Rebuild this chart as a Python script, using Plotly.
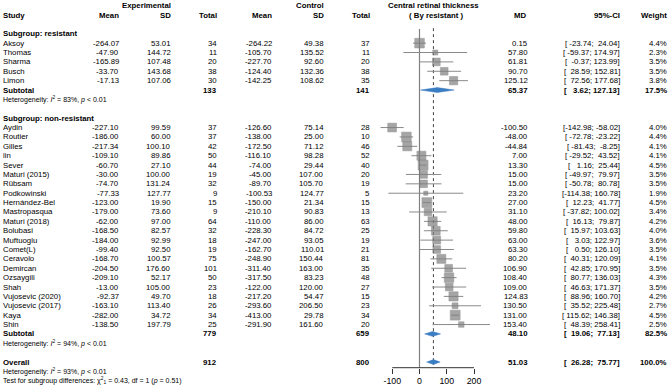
import plotly.graph_objects as go

# ---------------- data ----------------
study = ["Aksoy", "Thomas", "Sharma", "Busch", "Limon",
         "Aydin", "Routier", "Gilles", "lin", "Sever", "Maturi (2015)", "Rübsam",
         "Podkowinski", "Hernández-Bel", "Mastropasqua", "Maturi (2018)", "Bolubasi",
         "Muftuoglu", "Comet(L)", "Ceravolo", "Demircan", "Ozsaygili", "Shah",
         "Vujosevic (2020)", "Vujosevic (2017)", "Kaya", "Shin"]
group = ["resistant"] * 5 + ["non-resistant"] * 22
exp_mean = [-264.07, -47.90, -165.89, -33.70, -17.13,
            -227.10, -186.00, -217.34, -109.10, -60.70, -30.00, -74.70,
            -77.33, -123.00, -179.00, -62.00, -168.50,
            -184.00, -99.40, -168.70, -204.50, -209.10, -13.00,
            -92.37, -163.10, -282.00, -138.50]
exp_sd = [53.01, 144.72, 107.48, 143.68, 107.06,
          99.59, 60.00, 100.10, 89.86, 27.10, 100.00, 131.24,
          127.77, 19.90, 73.60, 97.00, 82.57,
          92.99, 92.50, 100.57, 176.60, 52.17, 105.00,
          49.70, 113.40, 34.72, 197.79]
exp_n = [34, 11, 20, 38, 30,
         37, 37, 42, 50, 44, 19, 32,
         9, 15, 9, 64, 32,
         18, 19, 75, 101, 50, 23,
         18, 26, 34, 25]
ctl_mean = [-264.22, -105.70, -227.70, -124.40, -142.25,
            -126.60, -138.00, -172.50, -116.10, -74.00, -45.00, -89.70,
            -100.53, -150.00, -210.10, -110.00, -228.30,
            -247.00, -162.70, -248.90, -311.40, -317.50, -122.00,
            -217.20, -293.60, -413.00, -291.90]
ctl_sd = [49.38, 135.52, 92.60, 132.36, 108.62,
          75.14, 25.00, 71.12, 98.28, 29.44, 107.00, 105.70,
          124.77, 21.34, 90.83, 86.00, 84.72,
          93.05, 110.01, 150.44, 163.00, 83.23, 120.00,
          54.47, 206.50, 29.78, 161.60]
ctl_n = [37, 11, 20, 38, 35,
         28, 10, 46, 52, 40, 20, 19,
         5, 15, 13, 63, 25,
         19, 21, 81, 35, 48, 27,
         15, 23, 34, 20]
md = [0.15, 57.80, 61.81, 90.70, 125.12,
      -100.50, -48.00, -44.84, 7.00, 13.30, 15.00, 15.00,
      23.20, 27.00, 31.10, 48.00, 59.80,
      63.00, 63.30, 80.20, 106.90, 108.40, 109.00,
      124.83, 130.50, 131.00, 153.40]
ci_lo = [-23.74, -59.37, -0.37, 28.59, 72.56,
         -142.98, -72.78, -81.43, -29.52, 1.16, -49.97, -50.78,
         -114.38, 12.23, -37.82, 16.13, 15.97,
         3.03, 0.50, 40.31, 42.85, 80.77, 46.63,
         88.96, 35.52, 115.62, 48.39]
ci_hi = [24.04, 174.97, 123.99, 152.81, 177.68,
         -58.02, -23.22, -8.25, 43.52, 25.44, 79.97, 80.78,
         160.78, 41.77, 100.02, 79.87, 103.63,
         122.97, 126.10, 120.09, 170.95, 136.03, 171.37,
         160.70, 225.48, 146.38, 258.41]
weight = [4.4, 2.3, 3.5, 3.5, 3.8,
          4.0, 4.4, 4.1, 4.1, 4.5, 3.5, 3.5,
          1.9, 4.5, 3.4, 4.2, 4.0,
          3.6, 3.5, 4.1, 3.5, 4.3, 3.5,
          4.2, 2.7, 4.5, 2.5]

sub_names = ["resistant", "non-resistant"]
sub_exp_n = [133, 779]
sub_ctl_n = [141, 659]
sub_md = [65.37, 48.10]
sub_lo = [3.62, 19.06]
sub_hi = [127.13, 77.13]
sub_w = [17.5, 82.5]
sub_i2 = [83, 94]
sub_p = ["< 0.01", "< 0.01"]

ov_exp_n, ov_ctl_n = 912, 800
ov_md, ov_lo, ov_hi, ov_w = 51.03, 26.28, 75.77, 100.0
ov_i2, ov_p = 93, "< 0.01"
test_chi2, test_df, test_p = 0.43, 1, 0.51

x_ticks = [-100, 0, 100, 200]

# ---------------- layout constants ----------------
W, H = 669, 387
ROW0_PX, ROW_H = 15.0, 9.38
FONT = "Liberation Sans, Arial, sans-serif"
FS = 7.8
FS_HET = 7.0
ZERO_PX, SCALE = 419.5, 0.2725       # px of x=0, px per unit
XD0, XD1 = 360.0, 520.0              # forest x-domain in px
AXIS_PX = 367.7
COL = dict(study=3, e_mean=119.3, e_sd=170.7, e_n=217.3, c_mean=272.3,
           c_sd=323.7, c_n=370.0, md=527.7, ci=619.5, w=666.7)
SQ_PER_PCT = 2.2
DIA_H = 0.26


def px_to_k(py):
    return (py - ROW0_PX) / ROW_H


ann = []


def txt(s, xpx, k, anchor="right", bold=False, size=FS):
    ann.append(dict(text=f"<b>{s}</b>" if bold else s, x=xpx / W, xref="paper",
                    y=k, yref="y", xanchor=anchor, yanchor="middle", showarrow=False,
                    borderpad=0, borderwidth=0,
                    font=dict(size=size, family=FONT, color="black")))


def esc(s):
    return s.replace("<", "&lt;")


def fmt_ci(lo, hi):
    a = f"{lo:.2f}".rjust(7).replace(" ", "\u00a0")
    b = f"{hi:.2f}".rjust(6).replace(" ", "\u00a0")
    return f"[{a}; {b}]"


# headers
txt("Experimental", COL["e_sd"], -1, bold=True)
txt("Control", COL["c_sd"], -1, bold=True)
txt("Central retinal thickness", 433.5, -1, anchor="center", bold=True)
txt("Study", COL["study"], 0, anchor="left", bold=True)
for c, s in [("e_mean", "Mean"), ("e_sd", "SD"), ("e_n", "Total"), ("c_mean", "Mean"),
             ("c_sd", "SD"), ("c_n", "Total"), ("md", "MD"), ("ci", "95%-CI"), ("w", "Weight")]:
    txt(s, COL[c] - (1.5 if c == "md" else 0), 0, bold=True)
txt("( By resistant )", 436.5, 0, anchor="center", bold=True)

line_x, line_y = [], []
sq_x, sq_y, sq_s = [], [], []
diamonds = []

k = 2
for gi, g in enumerate(sub_names):
    txt(f"Subgroup: {g}", COL["study"], k, anchor="left", bold=True)
    k += 1
    for i in range(len(study)):
        if group[i] != g:
            continue
        txt(study[i], COL["study"], k, anchor="left")
        txt(f"{exp_mean[i]:.2f}", COL["e_mean"], k)
        txt(f"{exp_sd[i]:.2f}", COL["e_sd"], k)
        txt(f"{exp_n[i]}", COL["e_n"], k)
        txt(f"{ctl_mean[i]:.2f}", COL["c_mean"], k)
        txt(f"{ctl_sd[i]:.2f}", COL["c_sd"], k)
        txt(f"{ctl_n[i]}", COL["c_n"], k)
        txt(f"{md[i]:.2f}", COL["md"], k)
        txt(fmt_ci(ci_lo[i], ci_hi[i]), COL["ci"], k)
        txt(f"{weight[i]:.1f}%", COL["w"], k)
        line_x += [ci_lo[i], ci_hi[i], None]
        line_y += [k, k, None]
        sq_x.append(md[i]); sq_y.append(k); sq_s.append(SQ_PER_PCT * weight[i])
        k += 1
    txt("Subtotal", COL["study"], k, anchor="left", bold=True)
    txt(f"{sub_exp_n[gi]}", COL["e_n"], k, bold=True)
    txt(f"{sub_ctl_n[gi]}", COL["c_n"], k, bold=True)
    txt(f"{sub_md[gi]:.2f}", COL["md"], k, bold=True)
    txt(fmt_ci(sub_lo[gi], sub_hi[gi]), COL["ci"], k, bold=True)
    txt(f"{sub_w[gi]:.1f}%", COL["w"], k, bold=True)
    diamonds.append((sub_lo[gi], sub_md[gi], sub_hi[gi], k))
    k += 1
    txt(f"Heterogeneity: <i>I</i><sup>2</sup> = {sub_i2[gi]}%, <i>p</i> {esc(sub_p[gi])}",
        COL["study"], k, anchor="left", size=FS_HET)
    k += 2

txt("Overall", COL["study"], k, anchor="left", bold=True)
txt(f"{ov_exp_n}", COL["e_n"], k, bold=True)
txt(f"{ov_ctl_n}", COL["c_n"], k, bold=True)
txt(f"{ov_md:.2f}", COL["md"], k, bold=True)
txt(fmt_ci(ov_lo, ov_hi), COL["ci"], k, bold=True)
txt(f"{ov_w:.1f}%", COL["w"], k, bold=True)
diamonds.append((ov_lo, ov_md, ov_hi, k))
k_overall = k
txt(f"Heterogeneity: <i>I</i><sup>2</sup> = {ov_i2}%, <i>p</i> {esc(ov_p)}",
    COL["study"], k + 1, anchor="left", size=FS_HET)
txt(f"Test for subgroup differences: χ<sup>2</sup><sub>{test_df}</sub> = {test_chi2:.2f}, "
    f"df = {test_df} (<i>p</i> = {test_p:.2f})",
    COL["study"], k + 2, anchor="left", size=FS_HET)

fig = go.Figure()
fig.add_trace(go.Scatter(x=line_x, y=line_y, mode="lines",
                         line=dict(color="#8a8a8a", width=1), hoverinfo="skip"))
fig.add_trace(go.Scatter(x=sq_x, y=sq_y, mode="markers",
                         marker=dict(symbol="square", size=sq_s, color="#808080",
                                     line=dict(color="#6a6a6a", width=0.5)),
                         hoverinfo="skip"))
for lo, m, hi, kk in diamonds:
    fig.add_trace(go.Scatter(x=[lo, m, hi, m, lo], y=[kk, kk - DIA_H, kk, kk + DIA_H, kk],
                             mode="lines", fill="toself", fillcolor="#3a7dc2",
                             line=dict(color="#3a7dc2", width=0.5), hoverinfo="skip"))

axis_pos = (H - AXIS_PX) / H
shapes = [
    dict(type="line", xref="x", yref="y", x0=0, x1=0, y0=1.5, y1=px_to_k(AXIS_PX),
         line=dict(color="#808080", width=1.2), layer="below"),
    dict(type="line", xref="x", yref="y", x0=ov_md, x1=ov_md, y0=1.4, y1=k_overall + 0.3,
         line=dict(color="#444444", width=1, dash="dot"), layer="below"),
    dict(type="line", xref="x", yref="paper", x0=min(x_ticks), x1=max(x_ticks),
         y0=axis_pos, y1=axis_pos, line=dict(color="#333333", width=1)),
]

fig.update_layout(
    width=W, height=H, autosize=False,
    margin=dict(l=0, r=0, t=0, b=0),
    paper_bgcolor="white", plot_bgcolor="white",
    showlegend=False, hovermode=False,
    font=dict(family=FONT, size=FS, color="black"),
    annotations=ann, shapes=shapes,
    xaxis=dict(domain=[XD0 / W, XD1 / W],
               range=[(XD0 - ZERO_PX) / SCALE, (XD1 - ZERO_PX) / SCALE],
               anchor="free", position=axis_pos,
               showgrid=False, zeroline=False, showline=False,
               ticks="outside", ticklen=5, tickwidth=1, tickcolor="#333333",
               tickvals=x_ticks, ticktext=[str(t) for t in x_ticks],
               tickfont=dict(size=8.8, family=FONT, color="black")),
    yaxis=dict(domain=[0, 1], range=[px_to_k(H), px_to_k(0)], visible=False),
)

fig.write_html("out.html", config={"displayModeBar": False},
               post_script="document.body.style.margin='0px';"
                           "document.body.style.overflow='hidden';")
